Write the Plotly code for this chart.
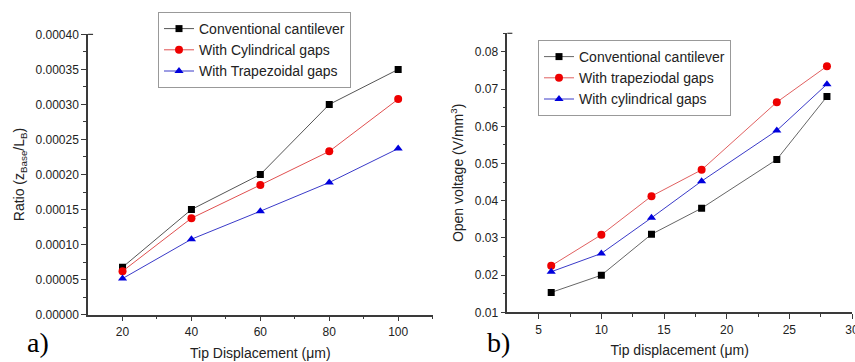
import plotly.graph_objects as go

# Panel a) ratio vs tip displacement
disp_a = [20, 40, 60, 80, 100]
ratio_conv = [0.0000676, 0.000150, 0.000200, 0.000300, 0.000350]
ratio_cyl = [0.0000619, 0.0001376, 0.000185, 0.000233, 0.0003076]
ratio_trap = [0.0000514, 0.0001076, 0.0001476, 0.0001886, 0.000237]

# Panel b) open voltage vs tip displacement
disp_b = [6, 10, 14, 18, 24, 28]
volt_conv = [0.01537, 0.0200, 0.0310, 0.0380, 0.0511, 0.0680]
volt_trap = [0.02253, 0.03086, 0.04124, 0.04831, 0.06649, 0.07615]
volt_cyl = [0.02092, 0.02584, 0.03542, 0.04527, 0.05888, 0.07132]

FONT = "Liberation Sans, Arial, sans-serif"
AXIS = "#3a3a3a"

fig = go.Figure()

def add(x, y, name, color, line_color, symbol, size, xa, ya, legend):
    fig.add_trace(go.Scatter(
        x=x, y=y, name=name, mode="lines+markers",
        line=dict(color=line_color, width=1),
        marker=dict(color=color, symbol=symbol, size=size),
        xaxis=xa, yaxis=ya, legend=legend,
    ))

add(disp_a, ratio_conv, "Conventional cantilever", "black", "#555555", "square", 7, "x", "y", "legend")
add(disp_a, ratio_cyl, "With Cylindrical gaps", "#ee0000", "#e05050", "circle", 8, "x", "y", "legend")
add(disp_a, ratio_trap, "With Trapezoidal gaps", "#0000dd", "#3a3ac8", "triangle-up", 8, "x", "y", "legend")

add(disp_b, volt_conv, "Conventional cantilever", "black", "#666666", "square", 7, "x2", "y2", "legend2")
add(disp_b, volt_trap, "With trapeziodal gaps", "#ee0000", "#e06060", "circle", 8, "x2", "y2", "legend2")
add(disp_b, volt_cyl, "With cylindrical gaps", "#0000dd", "#3a3ac8", "triangle-up", 8, "x2", "y2", "legend2")

common = dict(
    showline=True, linecolor=AXIS, linewidth=1.5,
    ticks="outside", ticklen=5, tickwidth=1.2, tickcolor=AXIS,
    showgrid=False, zeroline=False, ticklabeloverflow="allow", automargin=False,
    tickfont=dict(family=FONT, size=12, color="#222"),
)
title_font = dict(family=FONT, size=14, color="#222")

legend_style = dict(
    bgcolor="white", bordercolor="#999999", borderwidth=1,
    font=dict(family=FONT, size=14, color="#222"),
    tracegroupgap=0, itemsizing="trace", itemwidth=30,
    xanchor="left", yanchor="top",
)

fig.update_layout(
    width=855, height=362,
    margin=dict(l=0, r=0, t=0, b=0, autoexpand=False),
    paper_bgcolor="white", plot_bgcolor="white",
    xaxis=dict(domain=[0.103, 0.506], range=[10, 110], tickvals=[20, 40, 60, 80, 100],
               minor=dict(ticks="outside", ticklen=3, tickvals=[30, 50, 70, 90, 110], tickcolor=AXIS),
               title=dict(text="Tip Displacement (μm)", font=title_font, standoff=10),
               anchor="y", **common),
    yaxis=dict(domain=[0.131, 0.905], range=[0, 0.0004], dtick=0.00005, tickformat=".5f",
               minor=dict(ticks="outside", ticklen=3, dtick=0.000025, tickcolor=AXIS),
               title=dict(text="Ratio (z<sub>Base</sub>/L<sub>B</sub>)", font=title_font, standoff=8),
               anchor="x", **common),
    xaxis2=dict(domain=[0.5934, 0.9965], range=[2.5, 30], tickvals=[5, 10, 15, 20, 25, 30],
                minor=dict(ticks="outside", ticklen=3, tickvals=[7.5, 12.5, 17.5, 22.5, 27.5], tickcolor=AXIS),
                title=dict(text="Tip displacement (μm)", font=title_font, standoff=10),
                anchor="y2", **common),
    yaxis2=dict(domain=[0.137, 0.908], range=[0.01, 0.085], dtick=0.01, tickformat=".2f",
                minor=dict(ticks="outside", ticklen=3, dtick=0.005, tickcolor=AXIS),
                title=dict(text="Open voltage (V/mm<sup>3</sup>)", font=title_font, standoff=8),
                anchor="x2", **common),
    legend=dict(x=158 / 855, y=1 - 12 / 362, **legend_style),
    legend2=dict(x=538 / 855, y=1 - 40 / 362, **legend_style),
    showlegend=True,
)

# small end stubs at the top of each y axis
for xd, yd in (("x domain", "y domain"), ("x2 domain", "y2 domain")):
    fig.add_shape(type="line", xref=xd, yref=yd, xsizemode="pixel", xanchor=0,
                  x0=0, x1=5, y0=1, y1=1, line=dict(color=AXIS, width=1.2))

for label, xpos in (("a)", 38 / 855), ("b)", 498 / 855)):
    fig.add_annotation(text=label, x=xpos, y=0, xref="paper", yref="paper",
                       xanchor="center", yanchor="bottom", yshift=2, showarrow=False,
                       font=dict(family="Liberation Serif, Times New Roman, serif", size=28, color="black"))

fig.write_html("out.html")
